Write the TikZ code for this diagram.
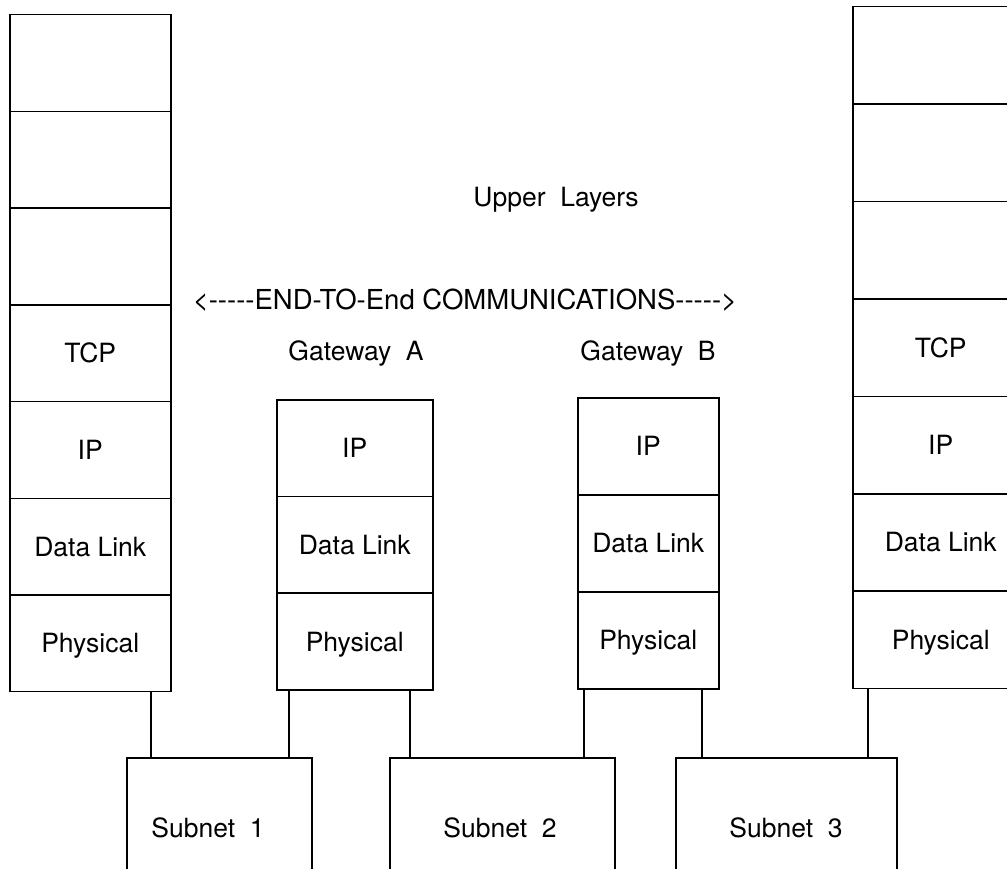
\documentclass[tikz,border=0pt]{standalone}
\usepackage{fontspec}
\setmainfont{TeX Gyre Heros}
\begin{document}
\begin{tikzpicture}[x=1pt,y=-1pt,
  line width=1.5pt,
  every node/.style={font=\fontsize{26.5}{30}\selectfont},
  cell/.style={draw, anchor=north west, inner sep=0pt, text height=19pt, text depth=0pt},
  lbl/.style={inner sep=0pt, text height=19pt, text depth=0pt},
  wire/.style={line width=1.5pt}]
\useasboundingbox (0,0) rectangle (1007,869);
\clip (0,0) rectangle (1007,869);
% Left host stack
\foreach \i/\t in {1/,2/,3/,4/TCP,5/IP,6/Data Link,7/Physical}{
  \node[cell, minimum width=161, minimum height=96.7] (L\i) at (9,{14+(\i-1)*96.7}) {\t};
}
% Right host stack
\foreach \i/\t in {1/,2/,3/,4/TCP,5/IP,6/Data Link,7/Physical}{
  \node[cell, minimum width=180, minimum height=97.4] (R\i) at (852,{6+(\i-1)*97.4}) {\hspace*{-4pt}\t};
}
% Gateway A
\foreach \i/\t in {1/IP,2/Data Link,3/Physical}{
  \node[cell, minimum width=156, minimum height=96.7] (A\i) at (276,{399+(\i-1)*96.7}) {\t};
}
% Gateway B
\foreach \i/\t in {1/IP,2/Data Link,3/Physical}{
  \node[cell, minimum width=141, minimum height=97] (B\i) at (577,{397+(\i-1)*97}) {\t};
}
% Subnets (extend beyond lower edge)
\node[cell, minimum width=185, minimum height=160] (S1) at (126,757) {};
\node[cell, minimum width=225, minimum height=160] (S2) at (389,757) {};
\node[cell, minimum width=221, minimum height=160] (S3) at (675,757) {};
\node[lbl] (S1t) at (208,828) {Subnet\hspace{0.55em}1};
\node[lbl] (S2t) at (500,828) {Subnet\hspace{0.55em}2};
\node[lbl] (S3t) at (786,828) {Subnet\hspace{0.55em}3};
% Labels
\node[lbl] (upper) at (556,197) {Upper\hspace{0.55em}Layers};
\node[lbl, font=\fontsize{27.5}{30}\selectfont] (e2e) at (465,300) {<-{}-{}-{}-{}-END-TO-End COMMUNICATIONS-{}-{}-{}-{}->};
\node[lbl] (gwa) at (356,351) {Gateway\hspace{0.55em}A};
\node[lbl] (gwb) at (648,351) {Gateway\hspace{0.55em}B};
% Connectors
\draw[wire] ([xshift=142pt]L7.south west) -- ([xshift=142pt]L7.south west |- S1.north);
\draw[wire] ([xshift=13pt]A3.south west) -- ([xshift=13pt]A3.south west |- S1.north);
\draw[wire] ([xshift=134pt]A3.south west) -- ([xshift=134pt]A3.south west |- S2.north);
\draw[wire] ([xshift=7pt]B3.south west) -- ([xshift=7pt]B3.south west |- S2.north);
\draw[wire] ([xshift=125pt]B3.south west) -- ([xshift=125pt]B3.south west |- S3.north);
\draw[wire] ([xshift=16pt]R7.south west) -- ([xshift=16pt]R7.south west |- S3.north);
\end{tikzpicture}
\end{document}
